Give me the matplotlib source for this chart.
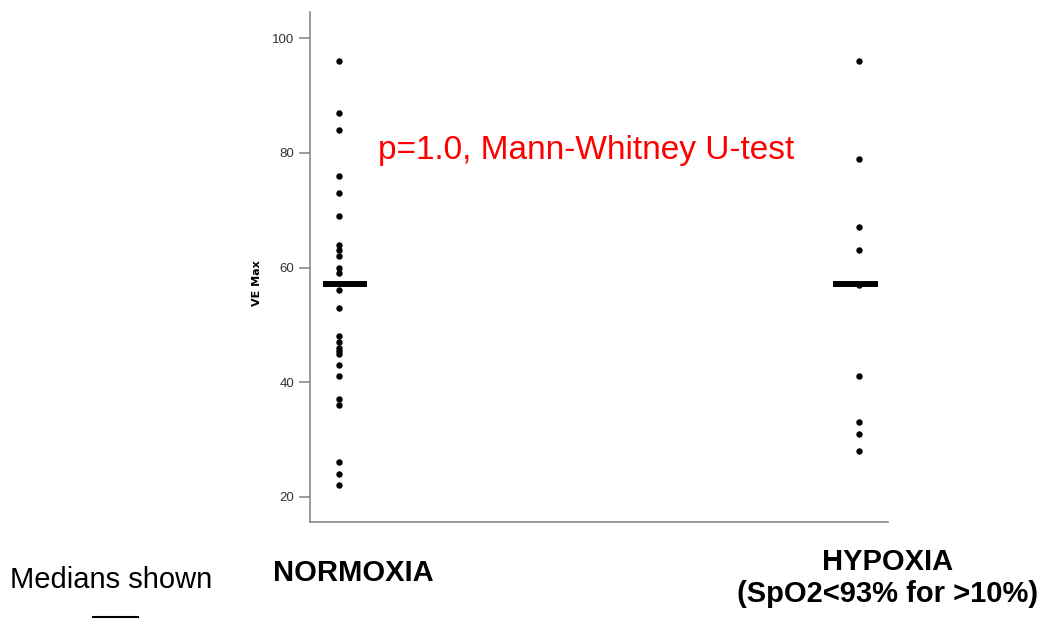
import numpy as np
import matplotlib.pyplot as plt
from matplotlib.lines import Line2D

plt.rcParams['font.family'] = ['Liberation Sans', 'DejaVu Sans']

# values
normoxia = [96, 87, 84, 76, 73, 69, 64, 63, 62, 60, 59, 56, 53,
            48, 47, 46, 45.5, 45, 43, 41, 37, 36, 26, 24, 22]
hypoxia = [96, 79, 67, 63, 57, 41, 33, 31, 28]
medians = [57.2, 57.2]
groups = ['NORMOXIA', 'HYPOXIA\n(SpO2<93% for >10%)']
yticks = [20, 40, 60, 80, 100]

W, H = 1046, 619
fig = plt.figure(figsize=(W / 100, H / 100), dpi=100)
ax = fig.add_axes([310 / W, 1 - 522 / H, 578 / W, 510 / H])

# median bars sit a little off-centre in the original
bar_span = [(-0.031, 0.054), (-0.050, 0.036)]
for i, vals in enumerate([normoxia, hypoxia]):
    ax.scatter(np.full(len(vals), i), vals, s=13, color='black', zorder=3)
    ax.hlines(medians[i], i + bar_span[i][0], i + bar_span[i][1], colors='black',
              linewidth=4.3, zorder=4)

ax.set_xlim(-0.0558, 1.0558)
ax.set_ylim(15.6, 104.6)
ax.set_yticks(yticks)
ax.set_xticks([])
ax.tick_params(axis='y', length=8, width=1.1, color='#808080', labelsize=9.5, labelcolor='#333333')
for side in ['top', 'right']:
    ax.spines[side].set_visible(False)
for side in ['left', 'bottom']:
    ax.spines[side].set_color('#808080')
    ax.spines[side].set_linewidth(1.1)

fig.text(257 / W, 1 - 283 / H, 'VE Max', rotation=90, ha='center', va='center',
         fontsize=8, fontweight='bold', family=['DejaVu Sans'])

fig.text(378 / W, 1 - 150 / H, 'p=1.0, Mann-Whitney U-test', color='red',
         fontsize=24, ha='left', va='center')

fig.text(10 / W, 1 - 580 / H, 'Medians shown', fontsize=21, ha='left', va='center')
fig.add_artist(Line2D([93 / W, 138 / W], [1 - 617 / H, 1 - 617 / H], color='black', linewidth=1.5))

fig.text(353 / W, 1 - 573 / H, groups[0], fontsize=21, fontweight='bold', ha='center', va='center')
fig.text(888 / W, 1 - 578 / H, groups[1], fontsize=21, fontweight='bold', ha='center', va='center',
         linespacing=1.2)

fig.savefig('out.png', dpi=100)
